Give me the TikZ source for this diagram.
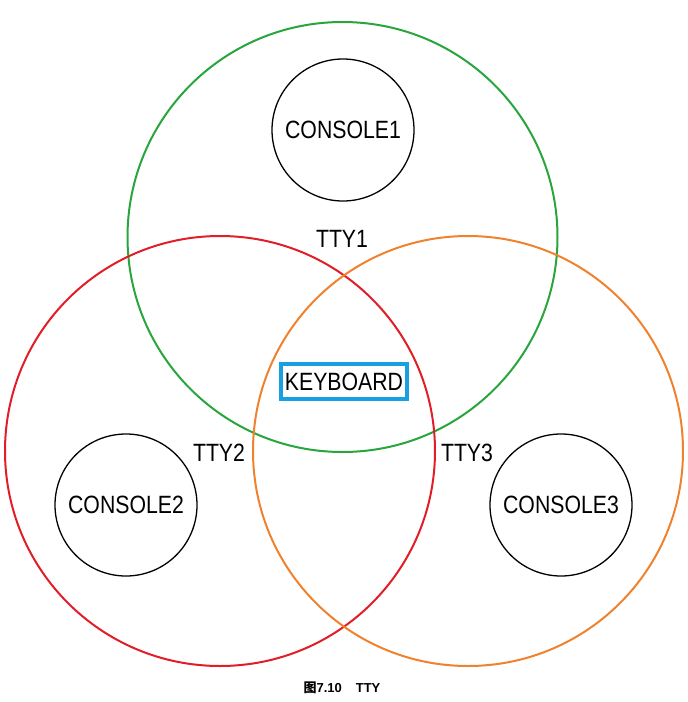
\documentclass[tikz,border=0pt]{standalone}
\usepackage{fontspec}
\setmainfont{Liberation Sans}[FakeStretch=0.85]
\newfontfamily\capfont{Liberation Sans}
\newfontfamily\cjkfont{Noto Sans CJK SC}
\definecolor{ggreen}{RGB}{40,165,60}
\definecolor{rred}{RGB}{225,30,40}
\definecolor{oorange}{RGB}{240,130,45}
\definecolor{bblue}{RGB}{25,160,225}
\begin{document}
\begin{tikzpicture}[x=1pt,y=-1pt,
  big/.style={draw,line width=2pt,circle,minimum size=430pt,inner sep=0pt},
  con/.style={draw=black,line width=1.3pt,circle,minimum size=142pt,inner sep=0pt,font=\fontsize{25}{28}\selectfont},
  lab/.style={font=\fontsize{25}{28}\selectfont,inner sep=0pt},
  kb/.style={draw=bblue,fill=white,line width=3.5pt,minimum width=126pt,minimum height=35pt,inner sep=0pt,font=\fontsize{25}{28}\selectfont}]
\useasboundingbox (0,0) rectangle (688,702);
\node[big,draw=ggreen] (g) at (342.5,237) {};
\node[big,draw=rred] (r) at (220,451) {};
\node[big,draw=oorange] (o) at (468,451) {};
\node[con] (c1) at (343,130) {CONSOLE1};
\node[con] (c2) at (126,505) {CONSOLE2};
\node[con] (c3) at (561,505) {CONSOLE3};
\node[lab] (t1) at (342,239) {TTY1};
\node[lab] (t2) at (219,453) {TTY2};
\node[lab] (t3) at (467,453) {TTY3};
\node[kb] (k) at (344,381.5) {KEYBOARD};
\node[inner sep=0pt,font=\fontsize{13}{15}\selectfont\bfseries] (cap) at (342,688) {{\cjkfont 图}{\capfont 7.10\hspace{14pt}TTY}};
\end{tikzpicture}
\end{document}
